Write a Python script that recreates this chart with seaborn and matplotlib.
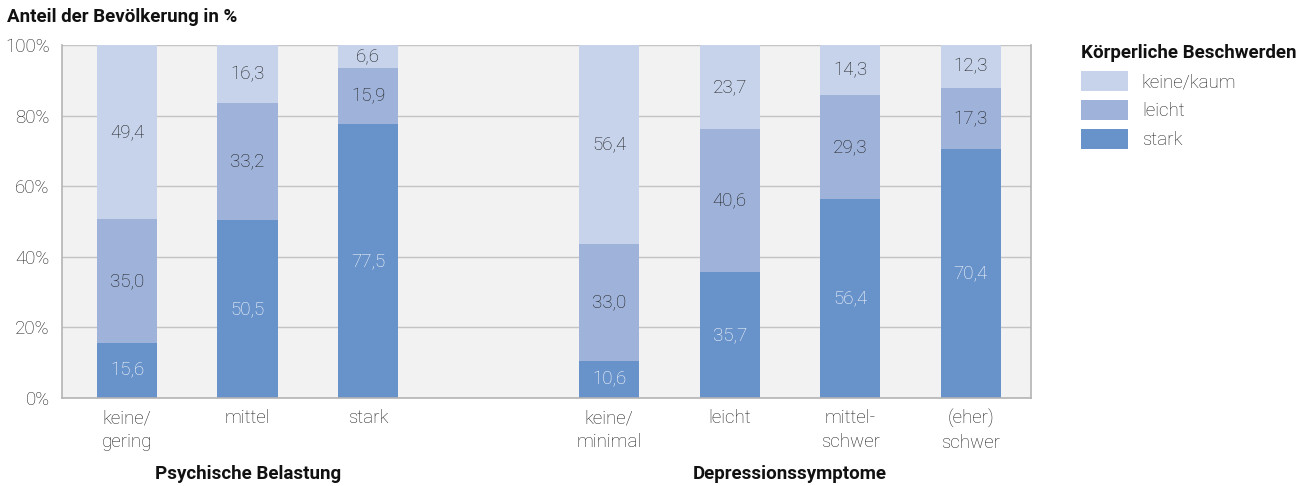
#!/usr/bin/env python3
# -*- coding: utf-8 -*-
"""
Stacked bars: physical complaints by mental strain and depression symptoms
"""

#%% Imports

import pandas as pd
import seaborn as sns
from matplotlib import pyplot as plt

#%% Data

GROUPS = ['Psychische Belastung', 'Depressionssymptome']
CATEGORIES = ['keine/\ngering', 'mittel', 'stark',
              'keine/\nminimal', 'leicht', 'mittel-\nschwer', '(eher)\nschwer']
CATEGORY_GROUP = [0, 0, 0, 1, 1, 1, 1]
LEVELS = ['keine/kaum', 'leicht', 'stark']

KEINE = [49.4, 16.3, 6.6, 56.4, 23.7, 14.3, 12.3]
LEICHT = [35.0, 33.2, 15.9, 33.0, 40.6, 29.3, 17.3]
STARK = [15.6, 50.5, 77.5, 10.6, 35.7, 56.4, 70.4]

COLOURS = {'keine/kaum': '#c6d3eb', 'leicht': '#9fb3da', 'stark': '#6892ca'}
TEXT_COLOURS = {'keine/kaum': '#1e1e1e', 'leicht': '#1e1e1e', 'stark': '#ffffff'}

# empty slot between the two groups
ORDER = CATEGORIES[:3] + [' '] + CATEGORIES[3:]

FS = 13.5
TXT = '#1e1e1e'

#%% Main

if __name__ == '__main__':

    df = pd.DataFrame({'Kategorie': CATEGORIES * 3,
                       'Beschwerden': [l for l in LEVELS for _ in CATEGORIES],
                       'Anteil': KEINE + LEICHT + STARK})
    df['Beschwerden'] = pd.Categorical(df['Beschwerden'], categories=['stark', 'leicht', 'keine/kaum'])
    df = df.sort_values(['Kategorie', 'Beschwerden'])
    df['Oben'] = df.groupby('Kategorie')['Anteil'].cumsum()
    df['Mitte'] = df['Oben'] - df['Anteil'] / 2

    sns.set_style('white')
    plt.rcParams['font.family'] = ['Roboto', 'DejaVu Sans']

    fig = plt.figure(figsize=(13.03, 4.86), dpi=100)
    ax = fig.add_axes([62/1303, 1 - 398/486, (1031 - 62)/1303, (398 - 45)/486])
    ax.set_facecolor('#f2f2f2')

    # draw from the tallest layer down so the bars look stacked
    for level in LEVELS:
        sub = df[df['Beschwerden'] == level]
        sns.barplot(data=sub, x='Kategorie', y='Oben', order=ORDER, color=COLOURS[level],
                    width=0.5, errorbar=None, linewidth=0, saturation=1, label=level, ax=ax)

    pos = {c: i for i, c in enumerate(ORDER)}
    for _, row in df.iterrows():
        ax.text(pos[row['Kategorie']], row['Mitte'], '{:.1f}'.format(row['Anteil']).replace('.', ','),
                ha='center', va='center', fontsize=FS, fontweight='light',
                color=TEXT_COLOURS[row['Beschwerden']])

    ax.set_xlim(-0.54, 7.5)
    ax.set_ylim(0, 100)
    ax.set_yticks([0, 20, 40, 60, 80, 100])
    ax.set_yticklabels(['{}%'.format(t) for t in [0, 20, 40, 60, 80, 100]])
    ax.yaxis.grid(True, color='#c4c4c4', linewidth=1)
    ax.set_axisbelow(True)
    ax.tick_params(axis='both', length=0, labelsize=FS, colors=TXT, pad=9)
    ax.tick_params(axis='x', pad=8)
    for lab in ax.get_xticklabels() + ax.get_yticklabels():
        lab.set_fontweight('light')
        lab.set_linespacing(1.45)
    for side in ['left', 'bottom', 'right']:
        ax.spines[side].set_color('#b4b4b4')
        ax.spines[side].set_linewidth(1.2)
    ax.spines['top'].set_visible(False)
    ax.set_xlabel('')
    ax.set_ylabel('')

    fig.text(7/1303, 1 - 17/486, 'Anteil der Bevölkerung in %', fontsize=FS, fontweight='bold',
             ha='left', va='center', color='#111111')

    # group labels under the categories
    for g, name in enumerate(GROUPS):
        idx = [pos[c] for c, cg in zip(CATEGORIES, CATEGORY_GROUP) if cg == g]
        centre = (min(idx) + max(idx)) / 2
        ax.text(centre, -0.215, name, transform=ax.get_xaxis_transform(), ha='center', va='center',
                fontsize=FS, fontweight='bold', color='#111111')

    leg = ax.legend(title='Körperliche Beschwerden', loc='upper left', bbox_to_anchor=(1.034, 1.05),
                    frameon=False, fontsize=FS, title_fontsize=FS, handlelength=2.5, handleheight=1.3,
                    handletextpad=0.75, labelspacing=0.45, alignment='left')
    leg.get_title().set_fontweight('bold')
    leg.get_title().set_color('#111111')
    for t in leg.get_texts():
        t.set_color(TXT)
        t.set_fontweight('light')

    plt.savefig('out.png', dpi=100)
    plt.close()
